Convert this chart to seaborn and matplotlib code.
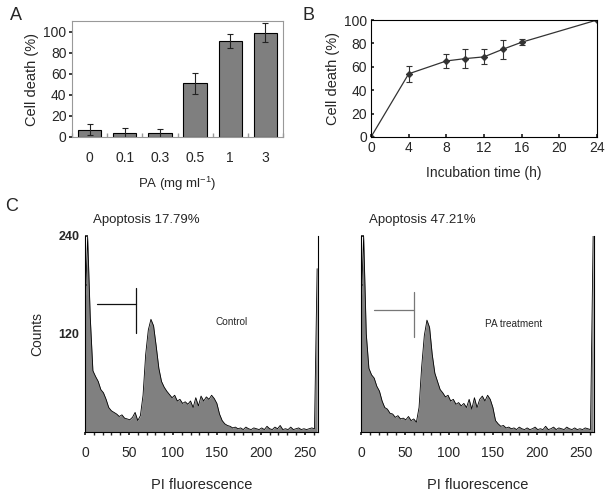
import numpy as np
import pandas as pd
import matplotlib
matplotlib.use("Agg")
import matplotlib.pyplot as plt
import seaborn as sns
from matplotlib.ticker import MultipleLocator, FixedLocator

sns.set_theme(style="white")
plt.rcParams['font.family'] = ['Liberation Sans', 'DejaVu Sans']

# ---------------- data ----------------
# Panel A
pa_conc = ["0", "0.1", "0.3", "0.5", "1", "3"]
pa_death = [7, 4, 3.5, 51, 91, 99]
pa_err = [5, 5, 4, 10, 7, 9]

# Panel B
time_h = [0, 4, 8, 10, 12, 14, 16, 24]
time_death = [0, 54, 65, 67, 68.5, 75, 81, 100]
time_err = [0, 7, 6, 8, 6.5, 8, 2.5, 0]

# Panel C histograms (channel every 3 units)
channels = np.arange(0, 265, 3)
control_counts = [150, 239, 140, 75, 68, 62, 52, 48, 40, 30, 26, 24, 22, 19, 21, 17,
                  16, 15, 18, 24, 14, 20, 45, 95, 125, 138, 130, 105, 78, 62, 55, 50,
                  46, 42, 45, 38, 40, 35, 37, 34, 38, 30, 42, 32, 44, 38, 43, 40,
                  45, 41, 35, 22, 14, 10, 8, 7, 5, 6, 4, 5, 3, 6, 4, 3,
                  5, 4, 3, 5, 3, 7, 4, 3, 6, 4, 8, 3, 4, 3, 6, 3,
                  4, 5, 3, 4, 3, 4, 5, 4, 200]
treat_counts = [150, 240, 120, 78, 70, 66, 56, 50, 38, 30, 28, 23, 22, 18, 20, 16,
                17, 15, 19, 14, 16, 12, 30, 80, 118, 137, 128, 95, 72, 62, 52, 48,
                43, 45, 38, 40, 34, 36, 32, 35, 30, 40, 28, 42, 30, 40, 44, 38,
                45, 40, 30, 14, 10, 7, 8, 5, 6, 4, 5, 3, 6, 4, 3, 5,
                3, 4, 6, 3, 4, 3, 7, 3, 4, 6, 3, 5, 4, 3, 6, 4,
                3, 5, 3, 4, 3, 5, 4, 3, 240]
hist_titles = ["Apoptosis 17.79%", "Apoptosis 47.21%"]
hist_notes = ["Control", "PA treatment"]

# ---------------- figure ----------------
W, H = 605, 491
fig = plt.figure(figsize=(W / 100, H / 100), dpi=100)

def rect(x0, y0, x1, y1):
    return [x0 / W, 1 - y1 / H, (x1 - x0) / W, (y1 - y0) / H]

TK = 10      # tick labels
LB = 10      # axis labels

# Panel A
axA = fig.add_axes(rect(72, 21, 283, 137))
dfA = pd.DataFrame({"conc": pa_conc, "death": pa_death})
sns.barplot(data=dfA, x="conc", y="death", ax=axA, color="#7f7f7f",
            edgecolor="black", linewidth=0.8, width=0.66, saturation=1, errorbar=None)
axA.errorbar(range(len(pa_conc)), pa_death, yerr=pa_err, fmt="none",
             ecolor="#222222", elinewidth=0.8, capsize=2.5, capthick=0.8)
axA.set_xlim(-0.5, 5.5)
axA.set_ylim(0, 110)
axA.yaxis.set_major_locator(MultipleLocator(20))
axA.set_xlabel("PA (mg ml$^{\\mathregular{-1}}$)", fontsize=LB - 0.5, labelpad=7)
axA.set_ylabel("Cell death (%)", fontsize=LB + 0.5, labelpad=3)
axA.tick_params(axis="x", length=0, pad=10, labelsize=TK)
axA.tick_params(axis="y", length=2, direction="out", pad=2, labelsize=TK, left=True)
axA.xaxis.set_minor_locator(FixedLocator(np.arange(-0.5, 6, 1)))
axA.tick_params(axis="x", which="minor", length=3, direction="in", bottom=True, color="#999999")
for s in axA.spines.values():
    s.set_color("#999999")
    s.set_linewidth(0.8)

# Panel B
axB = fig.add_axes(rect(371, 20, 597, 137))
dfB = pd.DataFrame({"t": time_h, "d": time_death})
sns.lineplot(data=dfB, x="t", y="d", ax=axB, color="#333333", linewidth=0.9,
             marker="D", markersize=3.2, markeredgecolor="#333333")
axB.errorbar(time_h, time_death, yerr=time_err, fmt="none", ecolor="#333333",
             elinewidth=0.8, capsize=2.5, capthick=0.8)
axB.set_xlim(0, 24)
axB.set_ylim(0, 100)
axB.xaxis.set_major_locator(MultipleLocator(4))
axB.yaxis.set_major_locator(MultipleLocator(20))
axB.set_xlabel("Incubation time (h)", fontsize=LB, labelpad=8)
axB.set_ylabel("Cell death (%)", fontsize=LB + 0.5, labelpad=3)
axB.tick_params(axis="both", length=2.5, direction="in", labelsize=TK,
                bottom=True, left=True, pad=3)
for s in axB.spines.values():
    s.set_color("black")
    s.set_linewidth(0.8)

# Panel C
hist_rects = [rect(85, 236, 318, 432), rect(361, 236, 594, 432)]
gate = [dict(x0=14, x1=58, y=157, vy0=121, vy1=176, c="#111111"),
        dict(x0=15, x1=60, y=150, vy0=116, vy1=171, c="#777777")]
note_pos = [(148, 135), (141, 132)]
for i, counts in enumerate([control_counts, treat_counts]):
    ax = fig.add_axes(hist_rects[i])
    dfC = pd.DataFrame({"ch": channels, "n": counts})
    ax.fill_between(channels, 0, counts, color="#808080", linewidth=0)
    sns.lineplot(data=dfC, x="ch", y="n", ax=ax, color="black", linewidth=0.6)
    ax.set_xlim(0, 265)
    ax.set_ylim(0, 240)
    ax.set_xlabel("PI fluorescence", fontsize=LB + 0.5, labelpad=13)
    ax.set_ylabel("Counts" if i == 0 else "", fontsize=LB, labelpad=10)
    ax.xaxis.set_major_locator(FixedLocator([0, 50, 100, 150, 200, 250]))
    ax.xaxis.set_minor_locator(MultipleLocator(10))
    ax.yaxis.set_major_locator(FixedLocator([0, 60, 120, 180, 240]))
    if i == 0:
        ax.set_yticklabels(["", "", "120", "", "240"], fontweight="bold")
    else:
        ax.set_yticklabels([])
    ax.tick_params(axis="x", which="both", length=2, direction="out",
                   labelsize=TK, pad=8, bottom=True)
    ax.tick_params(axis="y", length=2, direction="in", labelsize=9, pad=4, left=True)
    ax.spines["top"].set_visible(False)
    for side in ["left", "right", "bottom"]:
        ax.spines[side].set_color("black")
        ax.spines[side].set_linewidth(0.8)
    g = gate[i]
    ax.plot([g["x0"], g["x1"]], [g["y"], g["y"]], color=g["c"], linewidth=0.9)
    ax.plot([g["x1"], g["x1"]], [g["vy0"], g["vy1"]], color=g["c"], linewidth=0.9)
    ax.text(note_pos[i][0], note_pos[i][1], hist_notes[i], fontsize=7.2,
            ha="left", va="center")
    ax.text(0.265, 1.08, hist_titles[i], transform=ax.transAxes, fontsize=9.5,
            ha="center", va="center")

# panel letters
fig.text(10 / W, 1 - 15 / H, "A", fontsize=13, ha="left", va="center")
fig.text(303 / W, 1 - 15 / H, "B", fontsize=13, ha="left", va="center")
fig.text(5 / W, 1 - 207 / H, "C", fontsize=13, ha="left", va="center")

fig.savefig("out.png", dpi=100, facecolor="white")
